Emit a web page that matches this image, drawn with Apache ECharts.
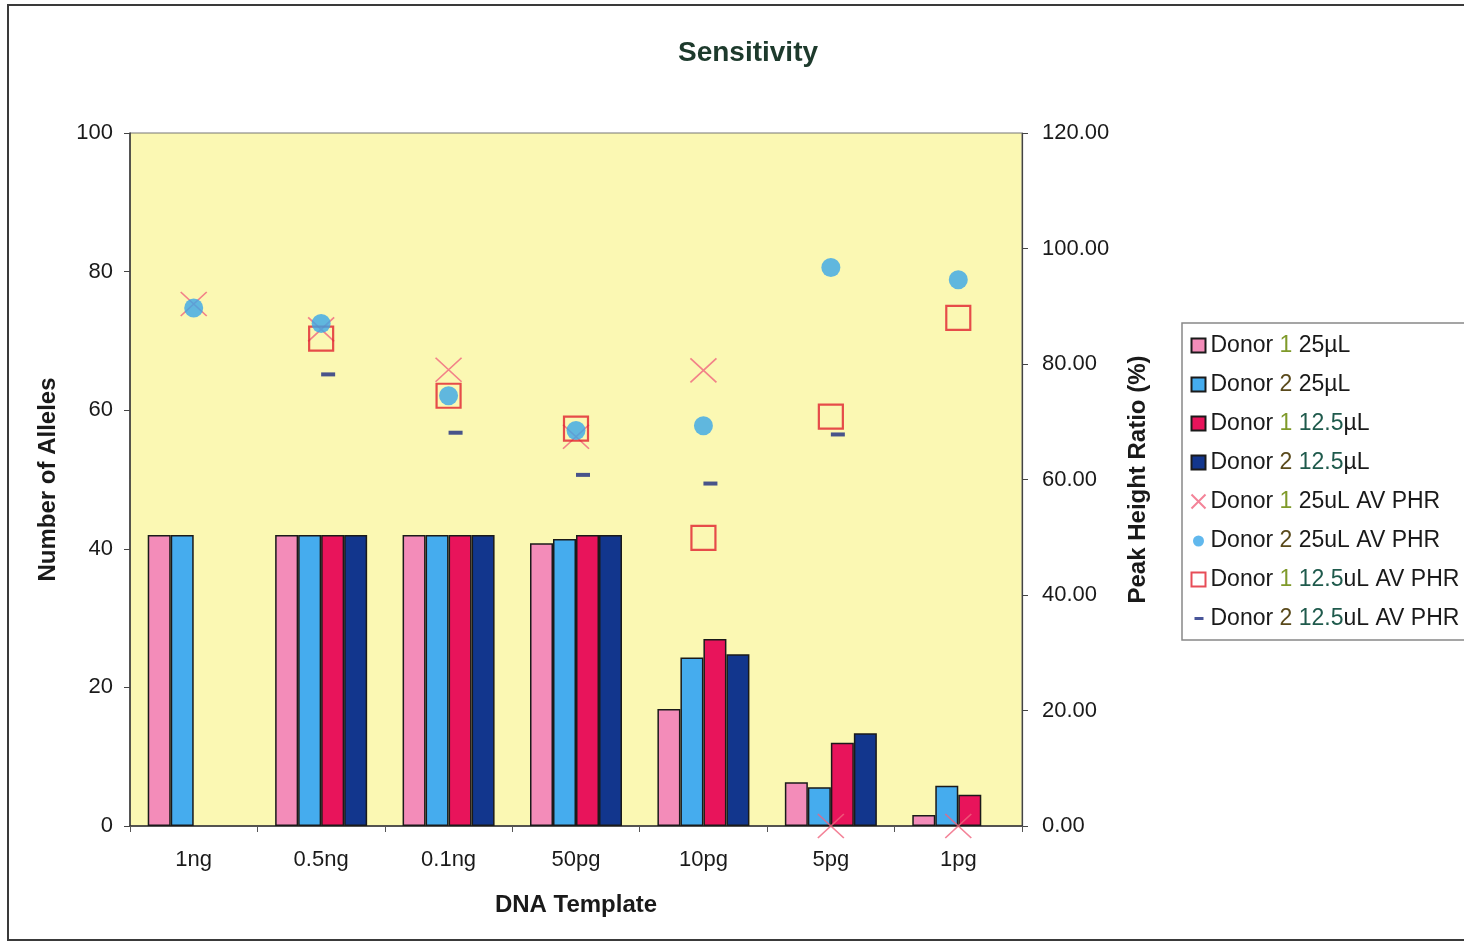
<!DOCTYPE html>
<html>
<head>
<meta charset="utf-8">
<script src="https://cdn.jsdelivr.net/npm/echarts@6/dist/echarts.min.js"></script>
<style>
html,body{margin:0;padding:0;background:#fff;}
#chart{width:1464px;height:945px;}
</style>
</head>
<body>
<div id="chart"></div>
<script>
const categories = ['1ng', '0.5ng', '0.1ng', '50pg', '10pg', '5pg', '1pg'];
const leftTicks = { min: 0, max: 100, interval: 20 };
const rightTicks = { min: 0, max: 120, interval: 20 };

// Number of alleles (left axis)
const donor1_25 = [42, 42, 42, 40.8, 16.9, 6.3, 1.6];
const donor2_25 = [42, 42, 42, 41.4, 24.3, 5.6, 5.8];
const donor1_12 = [null, 42, 42, 42, 27, 12, 4.5];
const donor2_12 = [null, 42, 42, 42, 24.8, 13.4, null];

// Average peak height ratio (%) (right axis)
const donor1_25_phr = [90.4, 86, 79, 67.4, 78.9, 0, 0];
const donor2_25_phr = [89.7, 87, 74.5, 68.5, 69.3, 96.7, 94.6];
const donor1_12_phr = [null, 84.4, 74.5, 68.8, 49.9, 70.9, 88];
const donor2_12_phr = [null, 78.2, 68.1, 60.8, 59.3, 67.8, null];

const FONT = '"Liberation Sans", Arial, sans-serif';
const barBorder = { borderColor: '#1a1a1a', borderWidth: 1.5 };

function bar(name, data, color) {
  return {
    name, type: 'bar', data, yAxisIndex: 0,
    barWidth: 23, barGap: '0%',
    itemStyle: Object.assign({ color }, barBorder)
  };
}

const dashIcon = 'path://M0,0L0.01,0.01L0,0.01ZM3,5.5h9v3h-9ZM14,14L13.99,13.99L14,13.99Z';
const dotIcon = 'path://M0,0L0.01,0.01L0,0.01ZM12.5,7.5a5.5,5.5 0 1,1 -11,0a5.5,5.5 0 1,1 11,0ZM14,14L13.99,13.99L14,13.99Z';

const chart = echarts.init(document.getElementById('chart'));
chart.setOption({
  backgroundColor: '#ffffff',
  animation: false,
  title: {
    text: 'Sensitivity',
    left: 743, top: 34, textAlign: 'center',
    textStyle: { fontFamily: FONT, fontSize: 28, fontWeight: 'bold', color: '#1d3a2c' }
  },
  graphic: [{
    type: 'rect',
    shape: { x: 8, y: 5, width: 1480, height: 935 },
    style: { fill: 'none', stroke: '#3a3a3a', lineWidth: 2 },
    silent: true, z: -1
  }],
  grid: {
    left: 130, right: 442, top: 133, bottom: 119,
    show: true, backgroundColor: '#fbf8b3', borderColor: '#777', borderWidth: 1
  },
  legend: {
    orient: 'vertical',
    left: 1182, top: 323,
    padding: [11, 40, 10, 7],
    itemGap: 16,
    itemWidth: 14, itemHeight: 14,
    borderColor: '#888', borderWidth: 1.5,
    backgroundColor: '#ffffff',
    textStyle: {
      fontFamily: FONT, fontSize: 23, color: '#1a1a1a', lineHeight: 22.5,
      rich: {
        g: { fontFamily: FONT, fontSize: 23, color: '#7f9a2a' },
        b: { fontFamily: FONT, fontSize: 23, color: '#5a4a1c' },
        t: { fontFamily: FONT, fontSize: 23, color: '#1f5a4c' }
      }
    },
    formatter: function (name) {
      return name
        .replace(/Donor 1/, 'Donor {g|1}')
        .replace(/Donor 2/, 'Donor {b|2}')
        .replace(/12\.5/, '{t|12.5}');
    },
    data: [
      { name: 'Donor 1 25µL', icon: 'rect' },
      { name: 'Donor 2 25µL', icon: 'rect' },
      { name: 'Donor 1 12.5µL', icon: 'rect' },
      { name: 'Donor 2 12.5µL', icon: 'rect' },
      { name: 'Donor 1 25uL AV PHR' },
      { name: 'Donor 2 25uL AV PHR', icon: dotIcon },
      { name: 'Donor 1 12.5uL AV PHR' },
      { name: 'Donor 2 12.5uL AV PHR', icon: dashIcon }
    ]
  },
  xAxis: {
    type: 'category',
    data: categories,
    name: 'DNA Template',
    nameLocation: 'middle',
    nameGap: 67,
    nameTextStyle: { fontFamily: FONT, fontSize: 24, fontWeight: 'bold', color: '#1a1a1a' },
    axisLine: { lineStyle: { color: '#333', width: 1.5 } },
    axisTick: { show: true, alignWithLabel: false, length: 6, lineStyle: { color: '#555' } },
    axisLabel: { fontFamily: FONT, fontSize: 22, color: '#1a1a1a', margin: 23 },
    splitLine: { show: false }
  },
  yAxis: [{
    type: 'value',
    min: leftTicks.min, max: leftTicks.max, interval: leftTicks.interval,
    position: 'left',
    name: 'Number of Alleles',
    nameLocation: 'middle', nameRotate: 90, nameGap: 70,
    nameTextStyle: { fontFamily: FONT, fontSize: 24, fontWeight: 'bold', color: '#1a1a1a' },
    axisLine: { show: true, lineStyle: { color: '#333', width: 1.5 } },
    axisTick: { show: true, length: 6, lineStyle: { color: '#444' } },
    axisLabel: { fontFamily: FONT, fontSize: 22, color: '#1a1a1a', margin: 17 },
    splitLine: { show: false }
  }, {
    type: 'value',
    min: rightTicks.min, max: rightTicks.max, interval: rightTicks.interval,
    position: 'right',
    name: 'Peak Height Ratio (%)',
    nameLocation: 'middle', nameRotate: 90, nameGap: 104,
    nameTextStyle: { fontFamily: FONT, fontSize: 24, fontWeight: 'bold', color: '#1a1a1a' },
    axisLine: { show: true, lineStyle: { color: '#444', width: 1.2 } },
    axisTick: { show: true, length: 6, lineStyle: { color: '#444' } },
    axisLabel: {
      fontFamily: FONT, fontSize: 22, color: '#1a1a1a', margin: 20,
      formatter: v => v.toFixed(2)
    },
    splitLine: { show: false }
  }],
  series: [
    bar('Donor 1 25µL', donor1_25, '#f38cb9'),
    bar('Donor 2 25µL', donor2_25, '#45acee'),
    bar('Donor 1 12.5µL', donor1_12, '#e8145b'),
    bar('Donor 2 12.5µL', donor2_12, '#12368d'),
    {
      name: 'Donor 1 25uL AV PHR', type: 'scatter', yAxisIndex: 1, data: donor1_25_phr,
      symbol: 'path://M0,0L10,10M10,0L0,10', symbolSize: [26, 24], clip: false,
      itemStyle: { color: 'none', borderColor: '#f0647e', borderWidth: 1.6 }, z: 5
    },
    {
      name: 'Donor 2 25uL AV PHR', type: 'scatter', yAxisIndex: 1, data: donor2_25_phr,
      symbol: 'circle', symbolSize: 19,
      itemStyle: { color: '#3aa6e8' }, z: 6
    },
    {
      name: 'Donor 1 12.5uL AV PHR', type: 'scatter', yAxisIndex: 1, data: donor1_12_phr,
      symbol: 'rect', symbolSize: 24,
      itemStyle: { color: 'none', borderColor: '#e1202e', borderWidth: 2.2 }, z: 5
    },
    {
      name: 'Donor 2 12.5uL AV PHR', type: 'scatter', yAxisIndex: 1, data: donor2_12_phr,
      symbol: 'rect', symbolSize: [14, 4], symbolOffset: [7, 0],
      itemStyle: { color: '#1b2a80' }, z: 6
    }
  ]
});
</script>
</body>
</html>
